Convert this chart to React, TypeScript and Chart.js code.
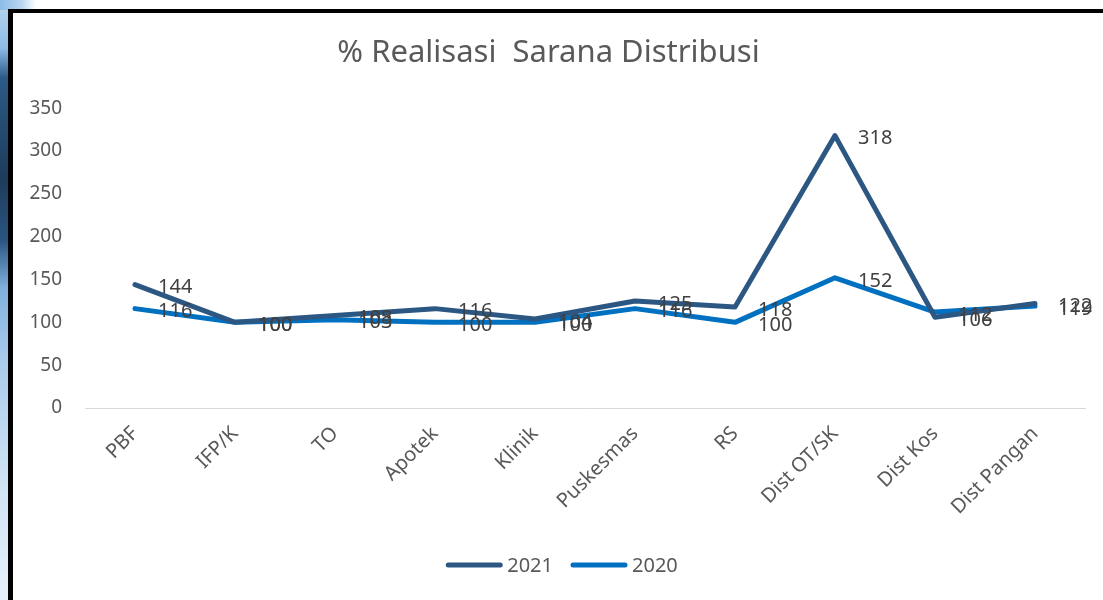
import React, { useEffect, useRef } from "react";
import { Chart, registerables } from "chart.js";

Chart.register(...registerables);

const categories = ["PBF", "IFP/K", "TO", "Apotek", "Klinik", "Puskesmas", "RS", "Dist OT/SK", "Dist Kos", "Dist Pangan"];
const series2021 = [144, 100, 108, 116, 104, 125, 118, 318, 106, 122];
const series2020 = [116, 100, 103, 100, 100, 116, 100, 152, 112, 119];
const seriesNames = ["2021", "2020"];
const seriesColors = ["#2C5783", "#0070C0"];
const yMin = 0;
const yMax = 350;
const yStep = 50;
const chartTitle = "% Realisasi  Sarana Distribusi";

const FONT = "'Noto Sans', 'Open Sans', sans-serif";

const dataLabelPlugin = {
  id: "dataLabels",
  afterDatasetsDraw(chart: any) {
    const ctx = chart.ctx;
    ctx.save();
    ctx.font = `20px ${FONT}`;
    ctx.fillStyle = "#404040";
    ctx.textAlign = "left";
    ctx.textBaseline = "middle";
    chart.data.datasets.forEach((ds: any, i: number) => {
      const meta = chart.getDatasetMeta(i);
      meta.data.forEach((el: any, j: number) => {
        ctx.fillText(String(ds.data[j]), el.x + 23, el.y + 3);
      });
    });
    ctx.restore();
  },
};

const legendPlugin = {
  id: "customLegend",
  afterDraw(chart: any) {
    const ctx = chart.ctx;
    ctx.save();
    ctx.font = `20px ${FONT}`;
    ctx.textBaseline = "middle";
    ctx.textAlign = "left";
    const y = 565;
    const lineLen = 56;
    const gap = 5;
    const itemGap = 18;
    const widths = chart.data.datasets.map((ds: any) => lineLen + gap + ctx.measureText(ds.label).width);
    const total = widths.reduce((a: number, b: number) => a + b, 0) + itemGap * (widths.length - 1);
    let x = 562 - total / 2;
    chart.data.datasets.forEach((ds: any, i: number) => {
      ctx.strokeStyle = ds.borderColor;
      ctx.lineWidth = 5;
      ctx.lineCap = "round";
      ctx.beginPath();
      ctx.moveTo(x + 2, y);
      ctx.lineTo(x + lineLen - 2, y);
      ctx.stroke();
      ctx.fillStyle = "#595959";
      ctx.fillText(ds.label, x + lineLen + gap, y + 1);
      x += widths[i] + itemGap;
    });
    ctx.restore();
  },
};

export default function App() {
  const canvasRef = useRef<HTMLCanvasElement | null>(null);

  useEffect(() => {
    if (!canvasRef.current) return;
    const chart = new Chart(canvasRef.current, {
      type: "line",
      data: {
        labels: categories,
        datasets: [
          {
            label: seriesNames[0],
            data: series2021,
            borderColor: seriesColors[0],
            backgroundColor: seriesColors[0],
            borderWidth: 5,
            pointRadius: 0,
            tension: 0,
            borderCapStyle: "round",
            borderJoinStyle: "round",
          },
          {
            label: seriesNames[1],
            data: series2020,
            borderColor: seriesColors[1],
            backgroundColor: seriesColors[1],
            borderWidth: 5,
            pointRadius: 0,
            tension: 0,
            borderCapStyle: "round",
            borderJoinStyle: "round",
          },
        ],
      },
      options: {
        animation: false,
        responsive: false,
        maintainAspectRatio: false,
        layout: { padding: { left: 12, right: 18, top: 0, bottom: 70 } },
        plugins: {
          legend: { display: false },
          tooltip: { enabled: false },
          title: {
            display: true,
            text: chartTitle,
            color: "#595959",
            font: { family: FONT, size: 31, weight: "normal" },
            padding: { top: 35, bottom: 36 },
          },
        },
        scales: {
          x: {
            type: "category",
            offset: true,
            grid: { display: false, drawTicks: false },
            border: { display: true, color: "#D9D9D9", width: 1 },
            ticks: {
              color: "#595959",
              font: { family: FONT, size: 20 },
              maxRotation: 45,
              minRotation: 45,
              autoSkip: false,
              padding: 14,
            },
            afterFit(scale: any) {
              scale.height = 122;
            },
          },
          y: {
            min: yMin,
            max: yMax,
            grid: { display: false, drawTicks: false },
            border: { display: false },
            ticks: {
              stepSize: yStep,
              color: "#595959",
              font: { family: FONT, size: 19 },
              padding: 23,
            },
            afterFit(scale: any) {
              scale.width = 73;
            },
          },
        },
      },
      plugins: [dataLabelPlugin, legendPlugin],
    });
    return () => chart.destroy();
  }, []);

  return (
    <div style={{ position: "fixed", left: 0, top: 0, width: 1103, height: 600, overflow: "hidden", background: "#ffffff" }}>
      <div
        style={{
          position: "absolute",
          left: 0,
          top: 0,
          width: 14,
          height: 600,
          background:
            "linear-gradient(to bottom, #b9d6f0 0%, #8dbbe6 8%, #2b5a85 13%, #1d3c5b 30%, #2a5580 40%, #7fb0de 48%, #a9cbec 60%, #cfe2f4 80%, #e6f0fa 100%)",
        }}
      />
      <div
        style={{
          position: "absolute",
          left: 0,
          top: 0,
          width: 36,
          height: 10,
          background: "linear-gradient(to right, #8dbbe6 0%, #b9d6f0 60%, #ffffff 100%)",
        }}
      />
      <div
        style={{
          position: "absolute",
          left: 8,
          top: 9,
          width: 1200,
          height: 700,
          borderTop: "4px solid #000",
          borderLeft: "5px solid #000",
          background: "#ffffff",
        }}
      />
      <canvas ref={canvasRef} width={1103} height={600} style={{ position: "absolute", left: 0, top: 0, width: 1103, height: 600 }} />
    </div>
  );
}
